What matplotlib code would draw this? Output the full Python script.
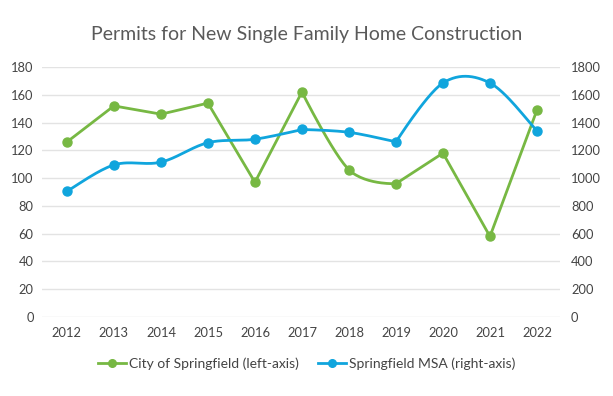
import numpy as np
import matplotlib.pyplot as plt
from matplotlib.lines import Line2D

plt.rcParams['font.family'] = ['Lato', 'DejaVu Sans']

years = [2012, 2013, 2014, 2015, 2016, 2017, 2018, 2019, 2020, 2021, 2022]
city_permits = [126, 152, 146, 154, 97, 162, 106, 96, 118, 58, 149]
msa_permits = [905, 1095, 1115, 1255, 1280, 1350, 1330, 1260, 1685, 1685, 1340]

left_ticks = [0, 20, 40, 60, 80, 100, 120, 140, 160, 180]
right_ticks = [0, 200, 400, 600, 800, 1000, 1200, 1400, 1600, 1800]

green = '#77b843'
blue = '#10a5dd'
text_col = '#444444'
grid_col = '#e3e3e3'


def smooth(xs, ys, n=30):
    # bezier through the points; arms follow catmull-rom, but a strict peak or dip keeps a corner
    xs = np.asarray(xs, float)
    ys = np.asarray(ys, float)
    k = len(xs)
    arms = []
    for i in range(k):
        lo = max(i - 1, 0)
        hi = min(i + 1, k - 1)
        ax_, ay_ = (xs[hi] - xs[lo]) / 6, (ys[hi] - ys[lo]) / 6
        if 0 < i < k - 1:
            d0 = ys[i] - ys[i - 1]
            d1 = ys[i + 1] - ys[i]
            if d0 * d1 < 0:
                ax_, ay_ = 0.0, 0.0
        arms.append((ax_, ay_))
    t = np.linspace(0, 1, n)[:, None]
    pts = []
    for i in range(k - 1):
        p0 = np.array([xs[i], ys[i]])
        p3 = np.array([xs[i + 1], ys[i + 1]])
        p1 = p0 + arms[i]
        p2 = p3 - arms[i + 1]
        seg = (1 - t)**3 * p0 + 3 * (1 - t)**2 * t * p1 + 3 * (1 - t) * t**2 * p2 + t**3 * p3
        pts.append(seg)
    pts = np.vstack(pts)
    return pts[:, 0], pts[:, 1]


fig = plt.figure(figsize=(6.13, 3.96), dpi=100)
ax = fig.add_axes([42 / 613, 79 / 396, 518 / 613, 250 / 396])
ax2 = ax.twinx()

ax.set_xlim(2011.47, 2022.49)
ax.set_ylim(0, 180)
ax2.set_ylim(0, 1800)
ax.set_yticks(left_ticks)
ax2.set_yticks(right_ticks)
ax.set_xticks(years)

ax.grid(axis='y', color=grid_col, linewidth=1)
ax.set_axisbelow(True)
for a in (ax, ax2):
    for s in a.spines.values():
        s.set_visible(False)
    a.tick_params(length=0, labelsize=9.3, labelcolor=text_col)
ax.tick_params(axis='y', pad=6)
ax2.tick_params(axis='y', pad=8)
ax.tick_params(axis='x', pad=7)

sx, sy = smooth(years, city_permits)
ax.plot(sx, sy, color=green, linewidth=2)
ax.plot(years, city_permits, 'o', color=green, markersize=6.5)

bx, by = smooth(years, msa_permits)
ax2.plot(bx, by, color=blue, linewidth=2)
ax2.plot(years, msa_permits, 'o', color=blue, markersize=6.5)

fig.text(0.5, 0.912, 'Permits for New Single Family Home Construction',
         ha='center', va='center', fontsize=14, color='#5a5a5a')

handles = [Line2D([], [], color=green, linewidth=2, marker='o', markersize=5.5),
           Line2D([], [], color=blue, linewidth=2, marker='o', markersize=5.5)]
fig.legend(handles, ['City of Springfield (left-axis)', 'Springfield MSA (right-axis)'],
           loc='center', bbox_to_anchor=(0.5, 1 - 364 / 396), ncol=2, frameon=False,
           fontsize=10, labelcolor=text_col, handlelength=2.0, handletextpad=0.2,
           columnspacing=1.4)

fig.savefig('out.png', dpi=100)
